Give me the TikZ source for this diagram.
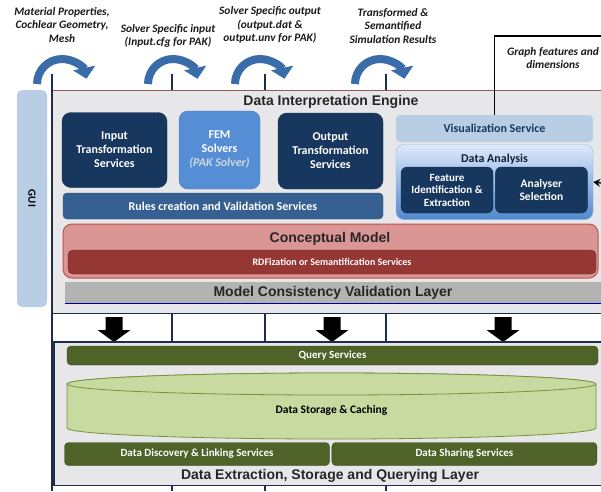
\documentclass[tikz,border=0pt]{standalone}
\usepackage{fontspec}
\setmainfont{Carlito}
\newfontfamily\arialfont{Liberation Sans}
\usetikzlibrary{arrows.meta,positioning}

\definecolor{guiblue}{RGB}{185,205,229}
\definecolor{enggray}{RGB}{231,231,233}
\definecolor{navy}{RGB}{23,55,94}
\definecolor{femblue}{RGB}{85,142,213}
\definecolor{rulesblue}{RGB}{55,96,146}
\definecolor{anatop}{RGB}{222,234,250}
\definecolor{anabot}{RGB}{80,136,206}
\definecolor{anaedge}{RGB}{142,180,227}
\definecolor{concpink}{RGB}{217,150,148}
\definecolor{concedge}{RGB}{192,80,77}
\definecolor{rdfred}{RGB}{149,55,53}
\definecolor{mcvgray}{RGB}{179,179,179}
\definecolor{olive}{RGB}{79,98,40}
\definecolor{storegreen}{RGB}{200,218,160}
\definecolor{storeedge}{RGB}{118,146,60}
\definecolor{arcblue}{RGB}{58,108,170}
\definecolor{framenavy}{RGB}{31,45,77}
\definecolor{topedge}{RGB}{150,90,85}

\tikzset{
    toplabel/.style={font=\fontsize{11.4}{13.5}\selectfont\bfseries\itshape, align=center, text=black!90},
    darkbox/.style={rectangle, rounded corners=9pt, fill=navy, draw=navy!80!black, text=white,
        font=\fontsize{12}{14}\selectfont\bfseries, align=center},
    barbox/.style={rectangle, rounded corners=4pt, align=center},
    layertitle/.style={font=\arialfont\fontsize{14}{16}\selectfont\bfseries, text=black!85},
    olivebar/.style={rectangle, rounded corners=4pt, fill=olive, draw=olive!70!black, text=white,
        font=\fontsize{11}{12}\selectfont\bfseries},
    framelines/.style={draw=framenavy, line width=1.3pt},
    bendarrow/.style={draw=arcblue, line width=8pt, -{Triangle[width=22pt,length=11pt]}},
}

\begin{document}
\begin{tikzpicture}[x=1pt,y=-1pt]

    \useasboundingbox (0,0) rectangle (601,491);

    % columns behind everything
    \foreach \cx in {52,172,265,386}
        \draw[framelines] (\cx,74) -- (\cx,491);

    \foreach \ax in {62,173,260,380}
        \draw[bendarrow] ([shift={(180:25)}]\ax,84) arc[start angle=180,end angle=348,radius=25];

    \node[toplabel] (matlabel) at (62,25) {Material Properties,\\Cochlear Geometry,\\Mesh};
    \node[toplabel] (inlabel) at (168,36) {Solver Specific input\\(Input.cfg for PAK)};
    \node[toplabel] (outlabel) at (270,25) {Solver Specific output\\(output.dat \&\\output.unv for PAK)};
    \node[toplabel] (reslabel) at (393,26) {Transformed \&\\Semantified\\Simulation Results};
    \node[toplabel] (graphlabel) at (553,58) {Graph features and\\dimensions};

    \node[rectangle, rounded corners=5pt, fill=guiblue, minimum width=217, minimum height=30,
        rotate=-90, font=\fontsize{11}{12}\selectfont\bfseries] (gui) at (32,198.5) {GUI};

    % interpretation engine
    \node[fill=enggray, minimum width=549, minimum height=223, anchor=north west, inner sep=0] (engine) at (52,90) {};
    \draw[topedge, line width=1pt] (engine.north west) -- (engine.north east);
    \draw[framelines] (engine.north west) -- (engine.south west) -- (engine.south east);
    \node[layertitle] (enginetitle) at (331,102) {Data Interpretation Engine};

    \node[darkbox, minimum width=105, minimum height=75] (inputts) at (114.5,150) {Input\\Transformation\\Services};
    \node[darkbox, fill=femblue, draw=femblue!85!black, minimum width=81, minimum height=78] (fem) at (219.5,150)
        {FEM\\Solvers\\{\itshape\color{white!80!navy}(PAK Solver)}};
    \node[darkbox, minimum width=105, minimum height=76] (outputts) at (330.5,151) {Output\\Transformation\\Services};
    \node[barbox, fill=rulesblue, draw=rulesblue!80!black, text=white, font=\fontsize{12}{14}\selectfont\bfseries,
        minimum width=320, minimum height=26] (rules) at (223,206) {Rules creation and Validation Services};

    \node[barbox, fill=guiblue, text=navy, font=\fontsize{12}{14}\selectfont\bfseries,
        minimum width=197, minimum height=27] (vis) at (494.5,128.5) {Visualization Service};
    \node[rectangle, rounded corners=8pt, top color=anatop, bottom color=anabot, draw=anaedge,
        minimum width=197, minimum height=75] (analysis) at (494.5,182) {};
    \node[font=\fontsize{12}{14}\selectfont\bfseries, text=navy!60!black] (analysistitle) at (494.5,159) {Data Analysis};
    \node[darkbox, rounded corners=6pt, font=\fontsize{11}{12.5}\selectfont\bfseries,
        minimum width=92, minimum height=46] (feature) at (447,190) {Feature\\Identification \&\\Extraction};
    \node[darkbox, rounded corners=6pt, font=\fontsize{11.5}{13}\selectfont\bfseries,
        minimum width=92, minimum height=46, right=2pt of feature] (analyser) {Analyser\\Selection};

    \node[rectangle, rounded corners=9pt, fill=concpink, draw=concedge, line width=1pt,
        minimum width=535, minimum height=54] (concept) at (330.5,251) {};
    \node[layertitle] (concepttitle) at (330,239) {Conceptual Model};
    \node[rectangle, rounded corners=5pt, fill=rdfred, draw=rdfred!70!black, text=white,
        font=\fontsize{10}{11}\selectfont\bfseries, minimum width=528, minimum height=24] (rdf) at (332,262)
        {RDFization or Semantification Services};

    \node[layertitle, fill=mcvgray, minimum width=536, minimum height=22, inner sep=0] (mcv) at (333,292.5)
        {Model Consistency Validation Layer};
    \draw[blue!60!black, line width=0.8pt] (mcv.south west) -- (mcv.south east);

    \coordinate (gfcorner) at (601,36);
    \coordinate (gfreturn) at (601,183);
    \draw[line width=1.3pt] (vis.north) |- (gfcorner);
    \draw[line width=1.3pt, -{Stealth[length=7pt,width=8pt]}] (gfreturn) -- (analysis.east);

    % down arrows
    \foreach \ax in {114,332,503}
        \fill (\ax-8.5,317) -- (\ax+8.5,317) -- (\ax+8.5,330) -- (\ax+16.5,330) -- (\ax,342)
            -- (\ax-16.5,330) -- (\ax-8.5,330) -- cycle;

    % storage layer
    \node[fill=enggray, minimum width=547, minimum height=143, anchor=north west, inner sep=0] (store) at (54,342) {};
    \draw[framelines] (store.north east) -- (store.north west) -- (store.south west) -- (store.south east);

    \node[olivebar, minimum width=531, minimum height=19] (query) at (332.5,355.5) {Query Services};

    \filldraw[fill=storegreen, draw=storeedge, line width=0.8pt] (67,384) -- (67,428)
        arc[start angle=180,end angle=0,x radius=264.5,y radius=11] -- (596,384)
        arc[start angle=0,end angle=-180,x radius=264.5,y radius=11] -- cycle;
    \draw[fill=storegreen, draw=storeedge, line width=0.8pt] (331.5,384) ellipse[x radius=264.5,y radius=11];
    \node[font=\fontsize{11.5}{13}\selectfont\bfseries] (storage) at (331.5,410) {Data Storage \& Caching};

    \node[olivebar, minimum width=265, minimum height=23] (discovery) at (197,454) {Data Discovery \& Linking Services};
    \node[olivebar, minimum width=265, minimum height=23, right=2pt of discovery] (sharing) {Data Sharing Services};

    \node[layertitle] (storetitle) at (330,476) {Data Extraction, Storage and Querying Layer};

\end{tikzpicture}
\end{document}
